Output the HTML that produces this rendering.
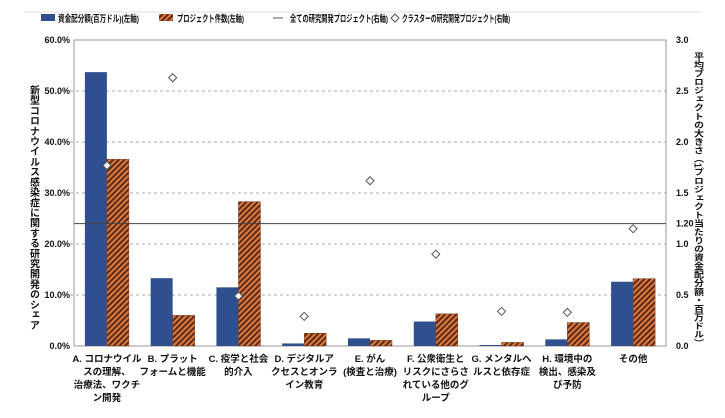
<!DOCTYPE html>
<html><head><meta charset="utf-8"><style>
body{margin:0;background:#fff}
svg{display:block;font-family:"Liberation Sans","Noto Sans CJK JP",sans-serif}
.vt{writing-mode:vertical-rl;text-orientation:mixed}
</style></head><body>
<svg id="chart" width="725" height="418" viewBox="0 0 725 418">
<defs>
<pattern id="hatch" patternUnits="userSpaceOnUse" width="4" height="4" patternTransform="rotate(45)">
<rect width="4" height="4" fill="#e07a3c"/>
<rect width="2" height="4" fill="#5a2a1a"/>
</pattern>
</defs>
<line x1="25" y1="12" x2="700" y2="12" stroke="#ddd"/>
<g font-size="9.5" font-weight="bold" fill="#111">
<rect x="41" y="14" width="14" height="7" fill="#2f4f8f"/>
<text x="58" y="22" textLength="81" lengthAdjust="spacingAndGlyphs">資金配分額(百万ドル)(左軸)</text>
<rect x="159" y="14" width="14" height="7" fill="url(#hatch)"/>
<text x="177" y="22" textLength="67" lengthAdjust="spacingAndGlyphs">プロジェクト件数(左軸)</text>
<line x1="273" y1="18" x2="283" y2="18" stroke="#555"/>
<text x="290" y="22" textLength="98" lengthAdjust="spacingAndGlyphs">全ての研究開発プロジェクト(右軸)</text>
<path d="M395 14 L399 18 L395 22 L391 18Z" fill="#fff" stroke="#555"/>
<text x="402" y="22" textLength="108" lengthAdjust="spacingAndGlyphs">クラスターの研究開発プロジェクト(右軸)</text>
</g>
<g id="plot"></g>
<text class="vt" x="33" y="85" font-size="10" font-weight="bold" fill="#111" textLength="245" lengthAdjust="spacingAndGlyphs">新型コロナウイルス感染症に関する研究開発のシェア</text>
<text class="vt" x="697" y="52" font-size="10" font-weight="bold" fill="#111" textLength="295" lengthAdjust="spacingAndGlyphs">平均プロジェクトの大きさ（1プロジェクト当たりの資金配分額・百万ドル）</text>
</svg>
<script>
const categories=[["A. コロナウイル","スの理解、","治療法、ワクチ","ン開発"],["B. プラット","フォームと機能"],["C. 疫学と社会","的介入"],["D. デジタルア","クセスとオンラ","イン教育"],["E. がん","(検査と治療)"],["F. 公衆衛生と","リスクにさらさ","れている他のグ","ループ"],["G. メンタルへ","ルスと依存症"],["H. 環境中の","検出、感染及","び予防"],["その他"]];
const funding=[53.7,13.3,11.5,0.5,1.5,4.8,0.2,1.3,12.6];
const projects=[36.6,6.0,28.3,2.5,1.1,6.3,0.7,4.6,13.2];
const clusterSize=[1.77,2.63,0.49,0.29,1.62,0.90,0.34,0.33,1.15];
const allAvg=1.20;
const leftTicks=["0.0%","10.0%","20.0%","30.0%","40.0%","50.0%","60.0%"];
const rightTicks=["0.0","0.5","1.0","1.5","2.0","2.5","3.0"];
const L=74,R=666,T=40,B=346;
const yL=v=>B-(v/60)*(B-T), yR=v=>B-(v/3)*(B-T);
const bw=(R-L)/categories.length, xc=i=>L+bw*(i+0.5);
const g=document.getElementById('plot'), NS="http://www.w3.org/2000/svg";
function mk(t,a,txt){const e=document.createElementNS(NS,t);for(const k in a)e.setAttribute(k,a[k]);if(txt!=null)e.textContent=txt;g.appendChild(e);return e;}
leftTicks.forEach((t,i)=>{const y=yL(i*10);
 if(i>0&&i<6){const l=mk('line',{x1:L-4,x2:R,y1:y,y2:y,stroke:'#aaa','stroke-dasharray':'3,3'});
 
 }
 const a=mk('text',{x:L-4,y:y+3,'text-anchor':'end','font-size':9,'font-weight':'bold',fill:'#111'},t);
 
 
 const b=mk('text',{x:R+10,y:y+3,'font-size':9,'font-weight':'bold',fill:'#111'},rightTicks[i]);
 
 });
const fr=mk('rect',{x:L,y:T,width:R-L,height:B-T,fill:'none',stroke:'#999'});


categories.forEach((c,i)=>{const x=xc(i);
 const b1=mk('rect',{x:x-22,y:yL(funding[i]),width:22,height:B-yL(funding[i]),fill:'#2f4f8f'});
 
 
 const b2=mk('rect',{x:x,y:yL(projects[i]),width:22,height:B-yL(projects[i]),fill:'url(#hatch)',stroke:'#7a3a1a','stroke-width':0.5});
 
 
 c.forEach((ln,j)=>{const t=mk('text',{x:x,y:B+16+j*13,'text-anchor':'middle','font-size':9.5,'font-weight':'bold',fill:'#111'},ln);
 
 });
});
const al=mk('line',{x1:L,x2:R,y1:yR(allAvg),y2:yR(allAvg),stroke:'#444','stroke-width':1});


const alt=mk('text',{x:R+10,y:yR(allAvg)+3,'font-size':9,'font-weight':'bold',fill:'#111'},allAvg.toFixed(2));


clusterSize.forEach((v,i)=>{const x=xc(i),y=yR(v);
 const d=mk('path',{d:`M${x} ${y-4}L${x+4} ${y}L${x} ${y+4}L${x-4} ${y}Z`,fill:'#fff',stroke:'#555'});
 
 });
</script>
</body></html>
